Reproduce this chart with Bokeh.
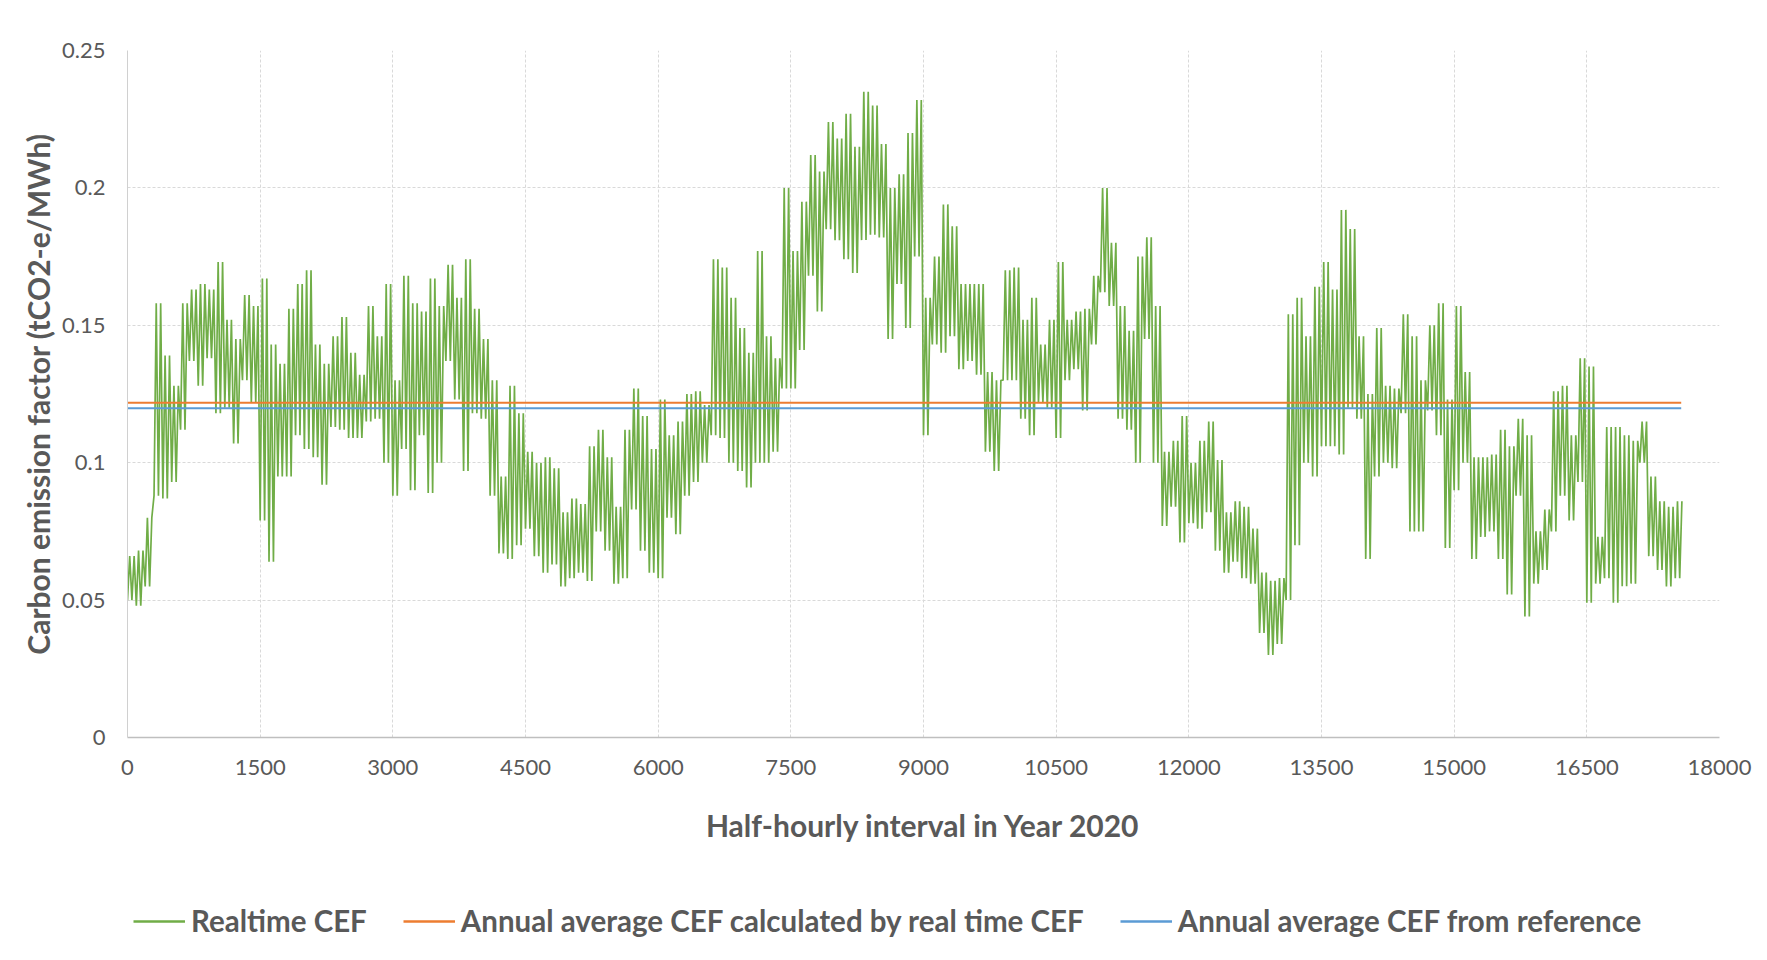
from bokeh.plotting import figure
from bokeh.layouts import column
from bokeh.models import (Range1d, FixedTicker, CustomJSTickFormatter, Legend,
                          LegendItem, ColumnDataSource)
from bokeh.embed import file_html
from bokeh.resources import INLINE

# ---------------- data ----------------
# Realtime CEF, read as (high, low) envelope for each block of 100 half-hourly intervals
BLOCK = 100
N_INTERVALS = 17568
cef_high = [
    0.066, 0.068, 0.080, 0.158, 0.139, 0.128, 0.158, 0.163, 0.165, 0.163,
    0.173, 0.152, 0.145, 0.161, 0.157, 0.167, 0.143, 0.136, 0.156, 0.165,
    0.170, 0.143, 0.136, 0.146, 0.153, 0.140, 0.132, 0.157, 0.146, 0.165,
    0.130, 0.168, 0.158, 0.155, 0.167, 0.157, 0.172, 0.160, 0.174, 0.156,
    0.145, 0.130, 0.095, 0.128, 0.118, 0.104, 0.100, 0.102, 0.098, 0.082,
    0.087, 0.085, 0.106, 0.112, 0.102, 0.084, 0.112, 0.127, 0.117, 0.105,
    0.123, 0.110, 0.115, 0.125, 0.126, 0.121, 0.174, 0.171, 0.160, 0.149,
    0.140, 0.177, 0.146, 0.138, 0.200, 0.177, 0.195, 0.212, 0.206, 0.224,
    0.218, 0.227, 0.215, 0.235, 0.230, 0.216, 0.200, 0.205, 0.220, 0.232,
    0.160, 0.175, 0.194, 0.186, 0.165, 0.165, 0.165, 0.133, 0.130, 0.170,
    0.171, 0.152, 0.160, 0.143, 0.152, 0.173, 0.152, 0.155, 0.156, 0.168,
    0.200, 0.180, 0.157, 0.148, 0.175, 0.182, 0.157, 0.104, 0.108, 0.117,
    0.100, 0.108, 0.115, 0.101, 0.082, 0.086, 0.084, 0.076, 0.060, 0.057,
    0.058, 0.154, 0.160, 0.146, 0.164, 0.173, 0.163, 0.192, 0.185, 0.146,
    0.125, 0.149, 0.128, 0.127, 0.154, 0.146, 0.130, 0.150, 0.158, 0.123,
    0.157, 0.133, 0.102, 0.102, 0.103, 0.112, 0.106, 0.116, 0.110, 0.075,
    0.083, 0.126, 0.128, 0.110, 0.138, 0.135, 0.073, 0.113, 0.113, 0.110,
    0.108, 0.115, 0.095, 0.086, 0.084, 0.086,
]
cef_low = [
    0.050, 0.048, 0.055, 0.088, 0.087, 0.093, 0.112, 0.137, 0.128, 0.138,
    0.118, 0.120, 0.107, 0.130, 0.122, 0.079, 0.064, 0.095, 0.095, 0.110,
    0.105, 0.102, 0.092, 0.113, 0.112, 0.109, 0.109, 0.115, 0.116, 0.100,
    0.088, 0.105, 0.090, 0.110, 0.089, 0.100, 0.137, 0.123, 0.097, 0.118,
    0.116, 0.088, 0.067, 0.065, 0.070, 0.076, 0.066, 0.060, 0.063, 0.055,
    0.058, 0.060, 0.057, 0.075, 0.068, 0.056, 0.058, 0.083, 0.068, 0.060,
    0.058, 0.080, 0.074, 0.088, 0.093, 0.100, 0.110, 0.109, 0.100, 0.097,
    0.091, 0.100, 0.100, 0.104, 0.127, 0.127, 0.141, 0.168, 0.155, 0.185,
    0.181, 0.174, 0.169, 0.181, 0.183, 0.182, 0.145, 0.165, 0.149, 0.175,
    0.110, 0.143, 0.140, 0.146, 0.134, 0.137, 0.132, 0.104, 0.097, 0.130,
    0.130, 0.116, 0.110, 0.122, 0.120, 0.109, 0.130, 0.134, 0.119, 0.143,
    0.162, 0.157, 0.116, 0.112, 0.100, 0.145, 0.100, 0.077, 0.084, 0.071,
    0.078, 0.076, 0.082, 0.068, 0.060, 0.064, 0.058, 0.056, 0.038, 0.030,
    0.034, 0.050, 0.070, 0.100, 0.095, 0.106, 0.106, 0.103, 0.120, 0.116,
    0.065, 0.095, 0.100, 0.098, 0.118, 0.075, 0.075, 0.119, 0.110, 0.069,
    0.090, 0.100, 0.065, 0.073, 0.075, 0.065, 0.052, 0.088, 0.044, 0.056,
    0.061, 0.075, 0.088, 0.079, 0.093, 0.049, 0.056, 0.058, 0.049, 0.055,
    0.056, 0.100, 0.066, 0.061, 0.055, 0.058,
]
avg_calculated = 0.1218   # Annual average CEF calculated by real time CEF
avg_reference = 0.1198    # Annual average CEF from reference

x_ticks = [0, 1500, 3000, 4500, 6000, 7500, 9000, 10500, 12000, 13500, 15000, 16500, 18000]
y_ticks = [0, 0.05, 0.10, 0.15, 0.20, 0.25]
series_names = ["Realtime CEF",
                "Annual average CEF calculated by real time CEF",
                "Annual average CEF from reference"]

# ---------------- build line data ----------------
# each ~2-day block swings between its read low and high once per day
rt_x, rt_y = [], []
for k, (hi, lo) in enumerate(zip(cef_high, cef_low)):
    b = k * BLOCK
    rt_x += [b, b + 25, b + 50, b + 75]
    rt_y += [lo, hi, lo, hi]
rt_src = ColumnDataSource(dict(x=rt_x, y=rt_y))

GREEN = "#70AD47"
ORANGE = "#ED7D31"
BLUE = "#5B9BD5"
TXT = "#595959"
FONT = "Lato"
W = 1767
H_MAIN = 870
H_LEG = 90

p = figure(width=W, height=H_MAIN, output_backend="svg", toolbar_location=None,
           x_range=Range1d(0, 18000), y_range=Range1d(0, 0.25),
           min_border_left=127, min_border_right=48, min_border_top=50,
           min_border_bottom=H_MAIN - 737)
p.outline_line_color = None
p.background_fill_color = "white"
p.border_fill_color = "white"

p.line("x", "y", source=rt_src, line_color=GREEN, line_width=1.7)
p.line([0, N_INTERVALS - 1], [avg_calculated, avg_calculated],
       line_color=ORANGE, line_width=2)
p.line([0, N_INTERVALS - 1], [avg_reference, avg_reference],
       line_color=BLUE, line_width=2)

# axes
p.xaxis.ticker = FixedTicker(ticks=x_ticks)
p.yaxis.ticker = FixedTicker(ticks=y_ticks)
p.yaxis.formatter = CustomJSTickFormatter(code="return String(parseFloat(tick.toFixed(2)));")
for ax in (p.xaxis, p.yaxis):
    ax.major_tick_line_color = None
    ax.minor_tick_line_color = None
    ax.major_label_text_color = TXT
    ax.major_label_text_font = FONT
    ax.major_label_text_font_size = "22px"
    ax.axis_label_text_color = TXT
    ax.axis_label_text_font = FONT
    ax.axis_label_text_font_style = "bold"
    ax.axis_label_text_font_size = "30px"
p.xaxis.axis_line_color = "#bfbfbf"
p.xaxis.axis_line_width = 1.5
p.yaxis.axis_line_color = "#d0d0d0"
p.xaxis.major_label_standoff = 16
p.yaxis.major_label_standoff = 16
p.xaxis.axis_label = "Half-hourly interval in Year 2020"
p.yaxis.axis_label = "Carbon emission factor (tCO2-e/MWh)"
p.xaxis.axis_label_standoff = 29
p.yaxis.axis_label_standoff = 3

for g in (p.xgrid, p.ygrid):
    g.grid_line_color = "#d9d9d9"
    g.grid_line_dash = "3 2"
    g.grid_line_width = 1

# ---------------- legend strip under the chart ----------------
# (its frame is aligned with the chart frame by the column layout)
lg = figure(width=W, height=H_LEG, output_backend="svg", toolbar_location=None,
            x_range=Range1d(0, 1), y_range=Range1d(0, 1),
            x_axis_location=None, y_axis_location=None,
            min_border_left=127, min_border_right=48,
            min_border_top=0, min_border_bottom=0)
lg.grid.visible = False
lg.outline_line_color = None
lg.background_fill_color = "white"
lg.border_fill_color = "white"
# key renderers: their points lie outside the visible range, only the legend keys show
k1 = lg.line(x=[-5, -4], y=[-5, -5], line_color=GREEN, line_width=2.5)
k2 = lg.line(x=[-5, -4], y=[-5, -5], line_color=ORANGE, line_width=2.5)
k3 = lg.line(x=[-5, -4], y=[-5, -5], line_color=BLUE, line_width=2.5)
legend = Legend(items=[LegendItem(label=series_names[0], renderers=[k1]),
                       LegendItem(label=series_names[1], renderers=[k2]),
                       LegendItem(label=series_names[2], renderers=[k3])],
                orientation="horizontal", location=(6, 22),
                padding=0, margin=0, spacing=36, glyph_width=52, glyph_height=20,
                label_standoff=6, border_line_color=None, background_fill_alpha=0,
                label_text_font=FONT, label_text_font_style="bold",
                label_text_font_size="29.5px", label_text_color=TXT)
lg.add_layout(legend)

open("out.html", "w").write(file_html(column(p, lg, spacing=0), INLINE))
